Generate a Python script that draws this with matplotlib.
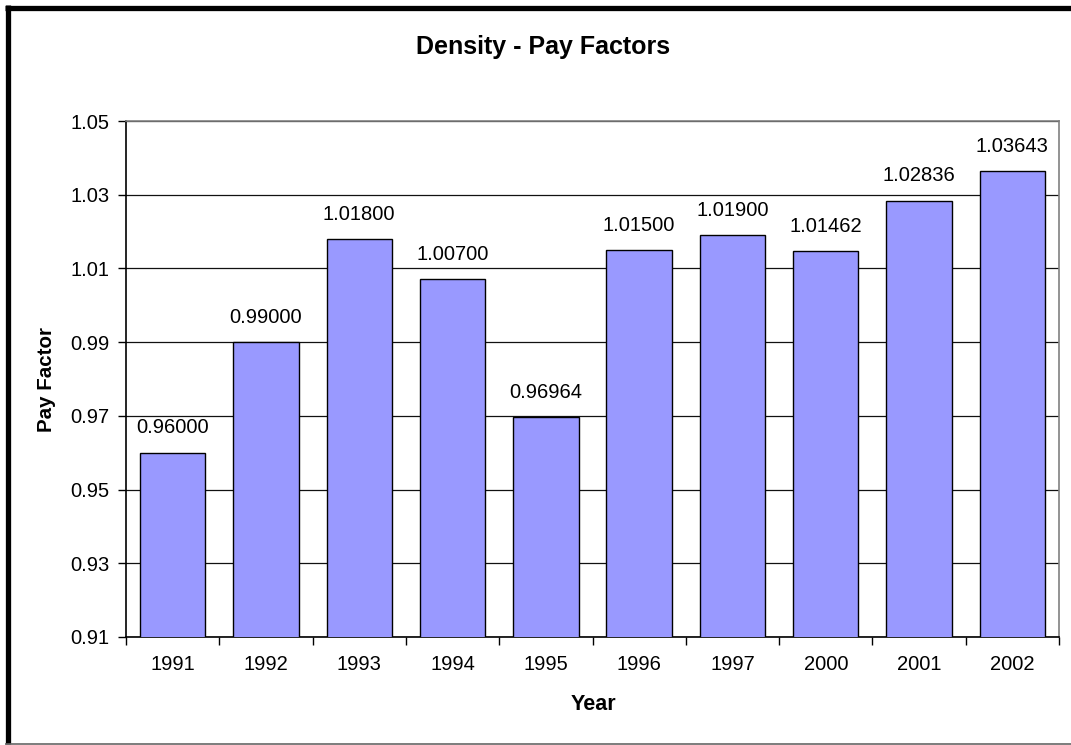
import matplotlib
matplotlib.use("Agg")
import matplotlib.pyplot as plt
from matplotlib.lines import Line2D
import numpy as np

years = ["1991", "1992", "1993", "1994", "1995", "1996", "1997", "2000", "2001", "2002"]
pay_factors = [0.96000, 0.99000, 1.01800, 1.00700, 0.96964, 1.01500, 1.01900, 1.01462, 1.02836, 1.03643]
labels = ["0.96000", "0.99000", "1.01800", "1.00700", "0.96964", "1.01500", "1.01900", "1.01462", "1.02836", "1.03643"]
yticks = [0.91, 0.93, 0.95, 0.97, 0.99, 1.01, 1.03, 1.05]

plt.rcParams['font.family'] = ['Liberation Sans', 'DejaVu Sans']

W, H = 1071, 745
fig = plt.figure(figsize=(W / 100, H / 100), dpi=100)
ax = fig.add_axes([126 / W, 1 - 637 / H, (1059 - 126) / W, (637 - 121) / H])

x = np.arange(len(years))
bars = ax.bar(x, pay_factors, width=0.70, color="#9999FF", edgecolor="black",
              linewidth=1.0, zorder=3)
ax.bar_label(bars, labels=labels, padding=11, fontsize=14.5)

ax.set_xlim(-0.5, len(years) - 0.5)
ax.set_ylim(0.91, 1.05)
ax.set_yticks(yticks)
ax.set_yticklabels([f"{v:.2f}" for v in yticks], fontsize=14.5)
ax.set_xticks(x)
ax.set_xticklabels(years, fontsize=14.5)
ax.set_xticks(np.arange(len(years) + 1) - 0.5, minor=True)
ax.tick_params(axis="x", which="major", length=0, pad=13)
ax.tick_params(axis="x", which="minor", length=6, width=1, direction="out")
ax.tick_params(axis="y", length=6, width=1, direction="out", pad=6)

ax.yaxis.grid(True, color="#111111", linewidth=0.9, zorder=0)
ax.set_axisbelow(True)

for s in ["top", "right"]:
    ax.spines[s].set_color("#808080")
    ax.spines[s].set_linewidth(1.2)
for s in ["left", "bottom"]:
    ax.spines[s].set_color("black")
    ax.spines[s].set_linewidth(1.2)

fig.text(543 / W, 1 - 47 / H, "Density - Pay Factors", ha="center", va="center",
         fontsize=18, fontweight="bold")
fig.text(46 / W, 1 - 380 / H, "Pay Factor", ha="center", va="center",
         rotation=90, fontsize=14.8, fontweight="bold")
fig.text(593 / W, 1 - 704 / H, "Year", ha="center", va="center",
         fontsize=15.5, fontweight="bold")

# outer chart frame
fig.add_artist(Line2D([5 / W, 1.0], [1 - 7.5 / H, 1 - 7.5 / H], color="black", linewidth=3.8,
                      transform=fig.transFigure, solid_capstyle="butt"))
fig.add_artist(Line2D([7.5 / W, 7.5 / W], [1 - 5 / H, 1 - 743.5 / H], color="black", linewidth=3.8,
                      transform=fig.transFigure, solid_capstyle="butt"))
fig.add_artist(Line2D([5 / W, 1.0], [1 - 743.5 / H, 1 - 743.5 / H], color="#666666", linewidth=1.2,
                      transform=fig.transFigure, solid_capstyle="butt"))

fig.savefig("out.png", dpi=100)
